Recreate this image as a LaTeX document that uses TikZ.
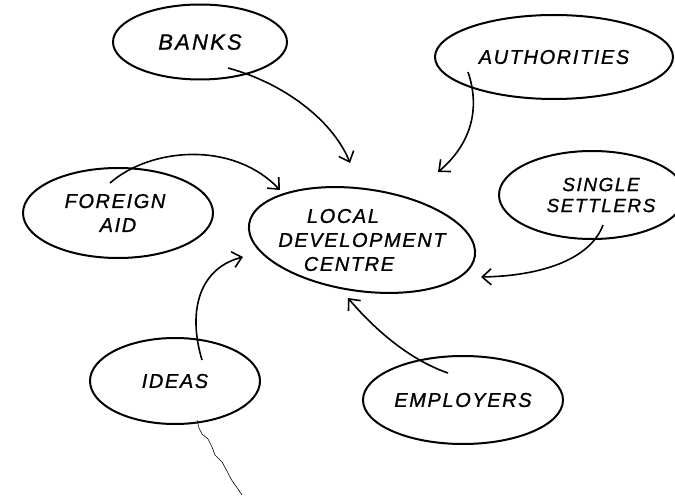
\documentclass[tikz,border=0pt]{standalone}
\usepackage{fontspec}
\setmainfont{Liberation Sans}
\usetikzlibrary{shapes.geometric,arrows.meta,calc}
\begin{document}
\begin{tikzpicture}[x=1pt,y=-1pt,
  blob/.style={draw, ellipse, line width=2pt, inner sep=0pt},
  hand/.style={font=\fontsize{20}{24}\selectfont\itshape\addfontfeature{LetterSpace=8,FakeBold=1}, align=center},
  conn/.style={line width=1.6pt, -{Straight Barb[length=9pt,width=16pt,line width=1.6pt]}},
  scrawl/.style={line width=0.6pt, line join=round}
]
\useasboundingbox (0,0) rectangle (675,500);

% the sources around the centre
\node[blob, hand, minimum width=174pt, minimum height=75pt, font=\fontsize{22}{26}\selectfont\itshape\addfontfeature{LetterSpace=10,FakeBold=1}] (banks) at (200,42) {BANKS};
\node[blob, hand, minimum width=238pt, minimum height=84pt] (auth) at (554,57) {AUTHORITIES};
\node[blob, hand, minimum width=186pt, minimum height=88pt, font=\fontsize{19}{21}\selectfont\itshape\addfontfeature{LetterSpace=8,FakeBold=1}] (single) at (592,195) {\hspace*{18pt}SINGLE\\\hspace*{18pt}SETTLERS};
\node[blob, hand, minimum width=190pt, minimum height=90pt] (foreign) at (118,213) {FOREIGN\kern6pt\\AID};
\node[blob, hand, minimum width=170pt, minimum height=86pt] (ideas) at (175,381) {IDEAS};
\node[blob, hand, minimum width=200pt, minimum height=88pt] (employers) at (463,400) {EMPLOYERS};

% the centre: text node with a slightly tilted outline
\node[ellipse, hand, minimum width=228pt, minimum height=102pt, inner sep=0pt] (ldc) at (362,240) {LOCAL\kern38pt\\DEVELOPMENT\\CENTRE\kern26pt};
\draw[line width=2pt, rotate around={-8:(ldc.center)}] (ldc.center) ellipse [x radius=114, y radius=51];

% connectors into the centre
\draw[conn] ($(banks)+(28,26)$) .. controls (290,85) and (335,125) .. ($(ldc)+(-12,-77)$);
\draw[conn] ($(auth)+(-86,15)$) .. controls (481,110) and (470,145) .. ($(ldc)+(76,-68)$);
\draw[conn] ($(single)+(11,30)$) .. controls (590,260) and (540,276) .. ($(ldc)+(119,37)$);
\draw[conn] ($(foreign)+(-8,-30)$) .. controls (150,148) and (232,140) .. ($(ldc)+(-82,-50)$);
\draw[conn] ($(ideas)+(27,-21)$) .. controls (187,310) and (200,268) .. ($(ldc)+(-119,17)$);
\draw[conn] ($(employers)+(-15,-27)$) .. controls (410,360) and (375,330) .. ($(ldc)+(-14,58)$);

% loose thin line below IDEAS
\coordinate (tail) at (242,495);
\draw[scrawl] ($(ideas)+(22,39)$) -- ++(2,8) -- ++(3,6) -- ++(6,5) -- ++(4,8) -- ++(3,8)
  -- ++(7,7) -- ++(5,9) -- ++(4,8) -- (tail);
\end{tikzpicture}
\end{document}
